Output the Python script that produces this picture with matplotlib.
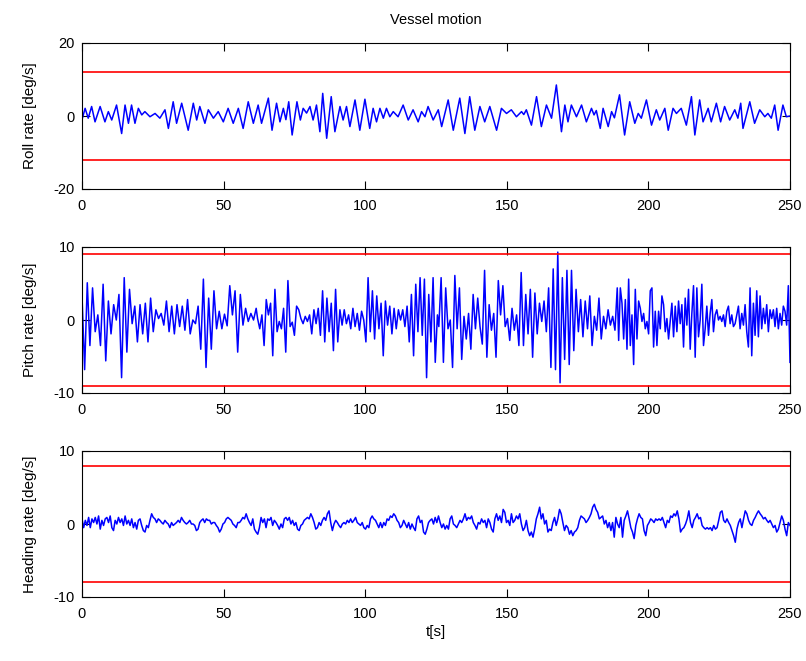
import numpy as np
import matplotlib.pyplot as plt

plt.rcParams['font.family'] = ['Liberation Sans', 'DejaVu Sans']
plt.rcParams['font.size'] = 10.5
plt.rcParams['axes.unicode_minus'] = False

# roll rate, peaks and troughs [s], [deg/s]
roll_t = [0, 1.1, 2.2, 3.4, 4.6, 6.4, 8.1, 9.3, 10.5, 12.2, 14.0, 15.2, 16.4, 17.5, 18.7,
          19.9, 21.1, 22.2, 24.0, 25.8, 27.5, 29.3, 30.5, 32.2, 33.4, 35.2, 37.5, 39.3,
          40.5, 41.6, 43.4, 44.6, 46.4, 48.1, 49.9, 51.6, 53.4, 55.2, 56.9, 58.7, 60.5,
          62.2, 63.4, 65.8, 67.1, 68.7, 69.9, 71.1, 72.0, 73.0, 74.2, 75.9, 77.1, 78.1,
          79.3, 80.5, 81.6, 82.8, 84.0, 85.0, 86.4, 88.0, 89.3, 91.1, 92.2, 93.4, 94.6,
          96.4, 98.1, 99.9, 101.6, 102.8, 104.0, 105.2, 106.4, 107.5, 108.7, 109.9, 111.6,
          113.4, 115.2, 116.9, 118.7, 119.9, 121.1, 122.2, 124.0, 125.8, 127.0, 129.3,
          131.1, 133.4, 135.2, 136.9, 138.7, 140.5, 142.2, 144.0, 146.4, 148.1, 149.9,
          151.6, 153.4, 155.2, 156.0, 156.9, 158.7, 160.5, 162.2, 164.0, 165.8, 167.5,
          169.3, 170.5, 171.6, 172.8, 174.6, 176.4, 178.1, 179.9, 180.8, 181.6, 183.0,
          184.0, 185.8, 187.0, 188.0, 189.8, 191.6, 193.4, 195.2, 196.4, 197.5, 199.3,
          201.1, 202.8, 204.0, 205.8, 207.0, 208.7, 209.9, 211.6, 213.4, 215.2, 216.4,
          218.1, 219.3, 221.1, 222.2, 224.0, 225.5, 226.9, 228.7, 230.5, 231.6, 232.6,
          233.4, 235.8, 237.5, 239.3, 241.1, 242.2, 243.4, 244.6, 245.8, 247.5, 248.7, 250.0]
roll_v = [-1.0, 2.1, -0.6, 2.6, -1.6, 2.6, -1.6, 1.2, -1.1, 3.0, -4.8, 3.0, -2.0, 3.0, -2.0,
          2.1, 0.3, 1.2, -0.2, 0.7, -0.6, 1.7, -3.4, 3.9, -2.0, 3.5, -3.9, 3.5,
          -1.1, 2.6, -2.0, 1.7, -0.6, 1.2, -1.6, 2.1, -2.0, 2.1, -3.4, 3.9, -2.0,
          3.0, -2.0, 4.9, -3.9, 3.5, -1.6, 2.1, -1.0, 3.9, -5.2, 3.9, -1.1, 2.1,
          0.8, 2.6, -1.1, 3.0, -4.3, 6.2, -6.1, 5.3, -4.3, 2.6, -1.1, 2.6, -2.9,
          4.4, -3.9, 4.6, -3.4, 2.1, -1.6, 2.1, -0.6, 2.1, -0.2, 1.2, -0.2,
          3.0, -1.1, 1.7, -1.6, 1.2, -0.2, 2.6, -1.1, 1.7, -2.9, 4.4,
          -3.9, 4.9, -4.8, 5.3, -3.9, 2.6, -1.6, 2.6, -3.9, 2.1, 0.7,
          1.7, -0.2, 1.2, 0.4, 1.7, -2.5, 5.3, -2.9, 3.0, -0.6, 8.5,
          -4.3, 3.0, -1.6, 3.0, -0.2, 3.0, -1.6, 2.1, 0.3, 1.5, -3.4,
          2.1, -2.9, 1.2, -0.5, 5.8, -5.2, 3.9, -2.0, 0.7, -0.6, 4.4,
          -2.5, 1.7, -1.1, 2.1, -3.9, 2.1, 0.7, 2.1, -2.5, 5.3, -5.2,
          4.4, -1.6, 2.1, -1.6, 3.5, -1.6, 2.6, -1.1, 1.7, -0.6, 3.5,
          -3.4, 3.9, -2.0, 1.7, -0.2, 0.7, -0.6, 3.0, -3.9, 3.0, -0.2, 0.0]

# pitch rate, read in four stretches of the time axis [deg/s]
pitch_spans = [(0, 61.5), (62, 125.5), (126, 189), (189.5, 250)]
pitch_a = [3.3, -6.8, 5.1, -3.5, 4.4, -1.6, 0.7, -3.5, 4.9, -5.6, 2.6, -1.9, 2.1, 0.0, 3.5,
           -7.9, 5.8, -4.4, 4.2, -0.5, 1.9, -3.0, 2.1, -1.9, 2.3, -3.0, 3.0, -1.6, 1.4, 0.2,
           0.9, -0.7, 2.6, -1.6, 1.9, -1.9, 2.1, -0.9, 1.9, -1.4, 2.8, -1.9, 0.0, -0.5, 1.9,
           -4.0, 5.6, -6.5, 3.0, -4.0, 4.0, -1.2, 1.2, -1.2, 0.8, -0.8, 4.7, 0.7, 4.0, -4.4,
           3.5, -0.7, 1.6, -0.2, 0.9, 0.0, 1.6]
pitch_b = [0.2, -1.2, 0.7, -3.5, 2.8, 0.7, 2.3, -4.9, 4.2, -1.6, -0.2, -1.2, 1.6, -4.4, 5.4,
           -0.9, -0.3, -2.1, 1.9, 1.4, 0.2, -0.5, 0.5, -0.2, 0.7, -1.9, 1.4, -0.5, 1.6, -2.1,
           4.0, -3.0, 3.0, -1.6, 2.3, -4.2, 4.2, -3.0, 1.4, -0.7, 1.4, -0.5, 0.7, -1.2, 1.6,
           -0.9, 0.9, -1.4, 1.2, 0.0, -3.0, 5.8, -1.6, 4.0, -2.6, 3.3, -1.2, 2.3, -4.9, 2.6,
           -0.7, 1.9, -1.9, 1.6, -1.2, 1.4, 0.0, 1.4, -0.9, 1.9, -3.0, 3.5, -4.9, 4.9, -1.6,
           5.8, -2.1, 5.6, -7.9, 3.5, -3.0, 5.8, -5.8, 0.7]
pitch_c = [-0.9, 5.8, -5.8, 4.4, -1.2, 0.0, -6.5, 6.1, -1.2, 4.4, -5.4, 0.5, -2.6, 0.9, -4.0,
           3.5, -1.2, 3.0, -0.9, -3.3, 6.8, -5.1, 2.1, -1.4, 0.9, -5.1, 5.4, 0.7, 4.7, -0.9,
           0.2, -2.8, 1.6, -1.4, 0.7, -3.5, 6.5, -3.5, 3.5, -1.9, 4.2, -5.1, 3.7, -1.9, 2.3,
           -0.2, 2.6, -1.6, 4.4, -6.5, 7.0, -6.8, 9.3, -8.6, 5.8, -5.4, 6.8, -6.1, 6.8, -4.2,
           4.2, -1.6, 2.8, -2.3, 2.6, -1.2, 3.3, -3.5, 0.5, -1.4, 3.0, -2.6, 0.5, -1.2, 1.4,
           -0.7, 0.5, -1.4, 4.4]
pitch_d = [-2.8, 4.4, 2.3, -2.6, 2.8, -4.0, 5.6, -3.5, 0.7, -6.1, 4.2, -2.6, 2.6, 1.6, -0.2,
           0.9, -1.2, -0.2, -1.9, 4.0, 4.4, -3.7, 1.2, -3.5, 1.2, -1.2, 3.3, 2.1, -1.6, 0.2,
           -2.6, -0.2, 2.3, -2.3, 1.9, -1.6, 2.6, -0.5, 2.1, -3.7, 3.0, -0.7, 4.2, -4.0, 0.9,
           4.7, -5.1, 4.4, -2.3, 0.0, 4.9, -3.5, -1.2, 1.9, -2.1, 0.9, 2.8, -1.6, 0.7, 1.4,
           0.0, 0.5, -0.2, 0.7, -0.9, 1.2, 1.9, -0.5, 0.7, -0.9, -0.5, 0.7, 1.9, -1.2, 0.9,
           -0.7, 2.1, -1.6, -3.7, 4.4, -4.9, 2.3, -2.1, 4.0, -2.3, 3.3, -1.2, 1.6, -0.5, 2.1,
           -1.6, 1.4, 0.2, 1.4, -0.9, 1.6, -1.2, 0.9, -0.7, 1.9, 1.2, -0.7, 4.7, -5.8]

# heading rate, read every ~0.6 s [deg/s]
heading_a = [0.7, -0.5, 0.5, -0.2, 0.9, -0.5, 0.7, 0.2, 0.9, 0.0, 1.1, -0.7, 0.5, -0.2, 0.7,
             0.9, 0.2, 1.1, -0.5, -0.9, 0.5, 0.0, 0.9, 0.2, 0.7, -0.2, 1.1, 0.0, 0.5, -0.2,
             0.7, -0.5, 0.2, -0.7, 0.5, 0.7, -0.2, -0.9, -1.1, -0.2, -0.5, 0.5, 1.4, 0.9, 0.7,
             0.2, 0.7, 0.5, 0.2, 0.0, 0.5, 0.2, 0.0, -0.5, 0.2, -0.2, 0.0, 0.2, 0.5, 0.2,
             0.9, 0.5, 0.2, 0.0, 0.2, 0.5, 0.0, 0.0, -0.2, -0.9, -0.7, 0.2, 0.5, 0.7, 0.2,
             0.7, 0.5, 0.5, 0.0, 0.2, 0.2, -0.2, -0.5, -1.1, -0.7, 0.0, 0.2, 0.7, 0.9, 0.7,
             0.5, 0.0, -0.2, -0.5, 0.2, 0.2, 0.5, 0.9, 0.7, 1.4, 0.7, 0.2, -0.2, 0.7, -0.7, -1.1]
heading_b = [-1.4, -0.5, 0.9, 0.2, 0.7, -0.5, 0.7, 0.5, 0.9, -0.2, 0.5, 0.2, -0.2, -0.7, 0.0,
             -0.5, 0.7, 0.9, 0.5, 0.9, 0.0, 0.5, -0.2, 0.2, -0.7, -0.9, -0.2, 0.0, 0.5, 0.7,
             0.9, 0.7, 1.4, 0.9, 0.2, -0.7, -0.5, 0.2, -0.2, 0.5, 0.9, 0.5, 1.4, 1.8, 0.2,
             -0.9, 0.0, 0.5, 0.2, -0.2, -0.5, 0.0, 0.2, 0.0, 0.5, 0.2, 0.7, 0.2, 0.5, 0.9,
             0.2, 0.0, -0.2, 0.2, -0.5, -0.7, -0.2, -0.5, 0.7, 1.1, 0.7, 0.5, 0.0, -0.5, 0.2,
             -0.5, 0.2, -0.2, 0.7, 0.5, 1.1, 0.9, 1.4, 1.1, 0.5, 0.2, -0.5, -0.2, 0.5, 0.0,
             -0.5, 0.2, -0.7, 0.0, -0.5, -0.9, 0.7, 1.1, 0.2, 0.5, -1.1, -1.4, -0.7, 0.2, 0.5,
             0.7, 0.0, 0.9, 0.2]
heading_c = [1.1, 0.2, -0.5, 0.0, -0.7, -0.2, -0.7, 0.7, 1.1, 0.0, -0.2, -0.5, 0.0, 0.5, 0.2,
             0.7, 1.4, 0.5, 0.9, 0.7, 1.1, 0.2, -0.2, -0.7, 0.2, 0.0, 0.7, 0.2, 0.5, -0.5,
             0.7, 0.2, -0.7, -1.1, 0.7, 1.4, 0.5, 1.1, 0.2, 2.0, 1.6, 0.2, 0.5, -0.2, 1.4,
             0.2, 0.5, 1.1, 0.7, 1.4, 0.0, -0.9, -0.5, 0.5, -0.9, -1.6, -1.1, -1.8, -0.7, 0.7,
             1.4, 2.3, 0.7, 1.4, 0.0, 0.5, -1.1, -0.7, -0.9, 0.2, 0.9, -0.2, 0.7, 2.0, 1.4,
             0.2, -0.9, -0.2, -0.5, -1.4, -0.9, -1.6, -1.1, -0.9, -0.5, 0.5, 1.1, 0.9, 0.7, 0.2,
             0.5, 0.9, 1.4, 2.3, 2.7, 2.0, 1.6, 0.7, 0.9, 1.1, 0.0, 0.5, -0.5, 0.2, -0.9,
             0.2, -1.8, 0.9]
heading_d = [0.0, -0.5, 0.9, -1.8, 0.5, 1.1, 1.8, 0.7, -0.5, -1.1, -2.0, -0.2, 0.7, 1.4, 0.9,
             0.7, -0.9, -1.6, -0.2, 0.2, 0.7, 0.5, 0.2, 0.7, 0.5, 0.7, 0.5, 0.9, 0.2, -0.5,
             0.5, 0.2, 1.1, 0.9, 1.4, 1.1, 1.8, 0.7, -1.1, -0.7, -0.5, 0.0, 0.7, 1.8, 0.2,
             -0.5, 0.5, 0.9, 1.4, 0.7, 0.9, -0.2, -0.5, -0.7, -0.5, -0.7, -0.5, -0.9, -0.2, -0.7,
             -0.5, 0.5, 1.6, 1.8, 0.5, 0.2, 0.7, 0.2, -0.2, -0.9, -1.6, -2.5, -0.7, 0.2, 0.7,
             -0.5, 0.7, 1.8, 1.4, 0.5, 0.0, -0.2, 0.5, 0.9, 1.4, 1.8, 1.4, 1.1, 0.7, 0.9,
             0.5, 0.2, 0.5, 0.0, -0.5, -0.2, -1.1, -0.7, 0.2, 1.1, 0.5, -0.7, -1.6, 0.2, -0.2]

# limits drawn in red
roll_limit = 12
pitch_limit = 9
heading_limit = 8


def stitch(parts, spans):
    t = np.concatenate([np.linspace(a, b, len(p)) for p, (a, b) in zip(parts, spans)])
    return t, np.concatenate(parts)


pitch_t, pitch_v = stitch([pitch_a, pitch_b, pitch_c, pitch_d], pitch_spans)
heading_v = np.concatenate([heading_a, heading_b, heading_c, heading_d])
heading_t = np.linspace(0, 250, len(heading_v))

W, H = 806, 661
fig = plt.figure(figsize=(W / 100, H / 100), dpi=100)
fig.patch.set_facecolor('white')

panels = [
    (43, roll_t, roll_v, roll_limit, 20, 'Roll rate [deg/s]'),
    (247, pitch_t, pitch_v, pitch_limit, 10, 'Pitch rate [deg/s]'),
    (451, heading_t, heading_v, heading_limit, 10, 'Heading rate [deg/s]'),
]
axes = []
for top, t, v, lim, ymax, label in panels:
    ax = fig.add_axes([82 / W, 1 - (top + 146) / H, 708 / W, 146 / H])
    ax.plot(t, v, color='#0000ff', lw=1.1)
    ax.axhline(lim, color='#ff0000', lw=1.2)
    ax.axhline(-lim, color='#ff0000', lw=1.2)
    ax.set_xlim(0, 250)
    ax.set_ylim(-ymax, ymax)
    ax.set_xticks(np.arange(0, 251, 50))
    ax.set_yticks([-ymax, 0, ymax])
    ax.tick_params(direction='in', top=True, right=True, length=6, width=0.8)
    ax.tick_params(axis='x', pad=7)
    ax.tick_params(axis='y', pad=5)
    for s in ax.spines.values():
        s.set_linewidth(0.8)
    ax.set_ylabel(label, fontsize=11, labelpad=12)
    axes.append(ax)

axes[0].set_title('Vessel motion', fontsize=10.5, pad=14)
axes[2].set_xlabel('t[s]', fontsize=11, labelpad=3)

fig.savefig('out.png', dpi=100)
